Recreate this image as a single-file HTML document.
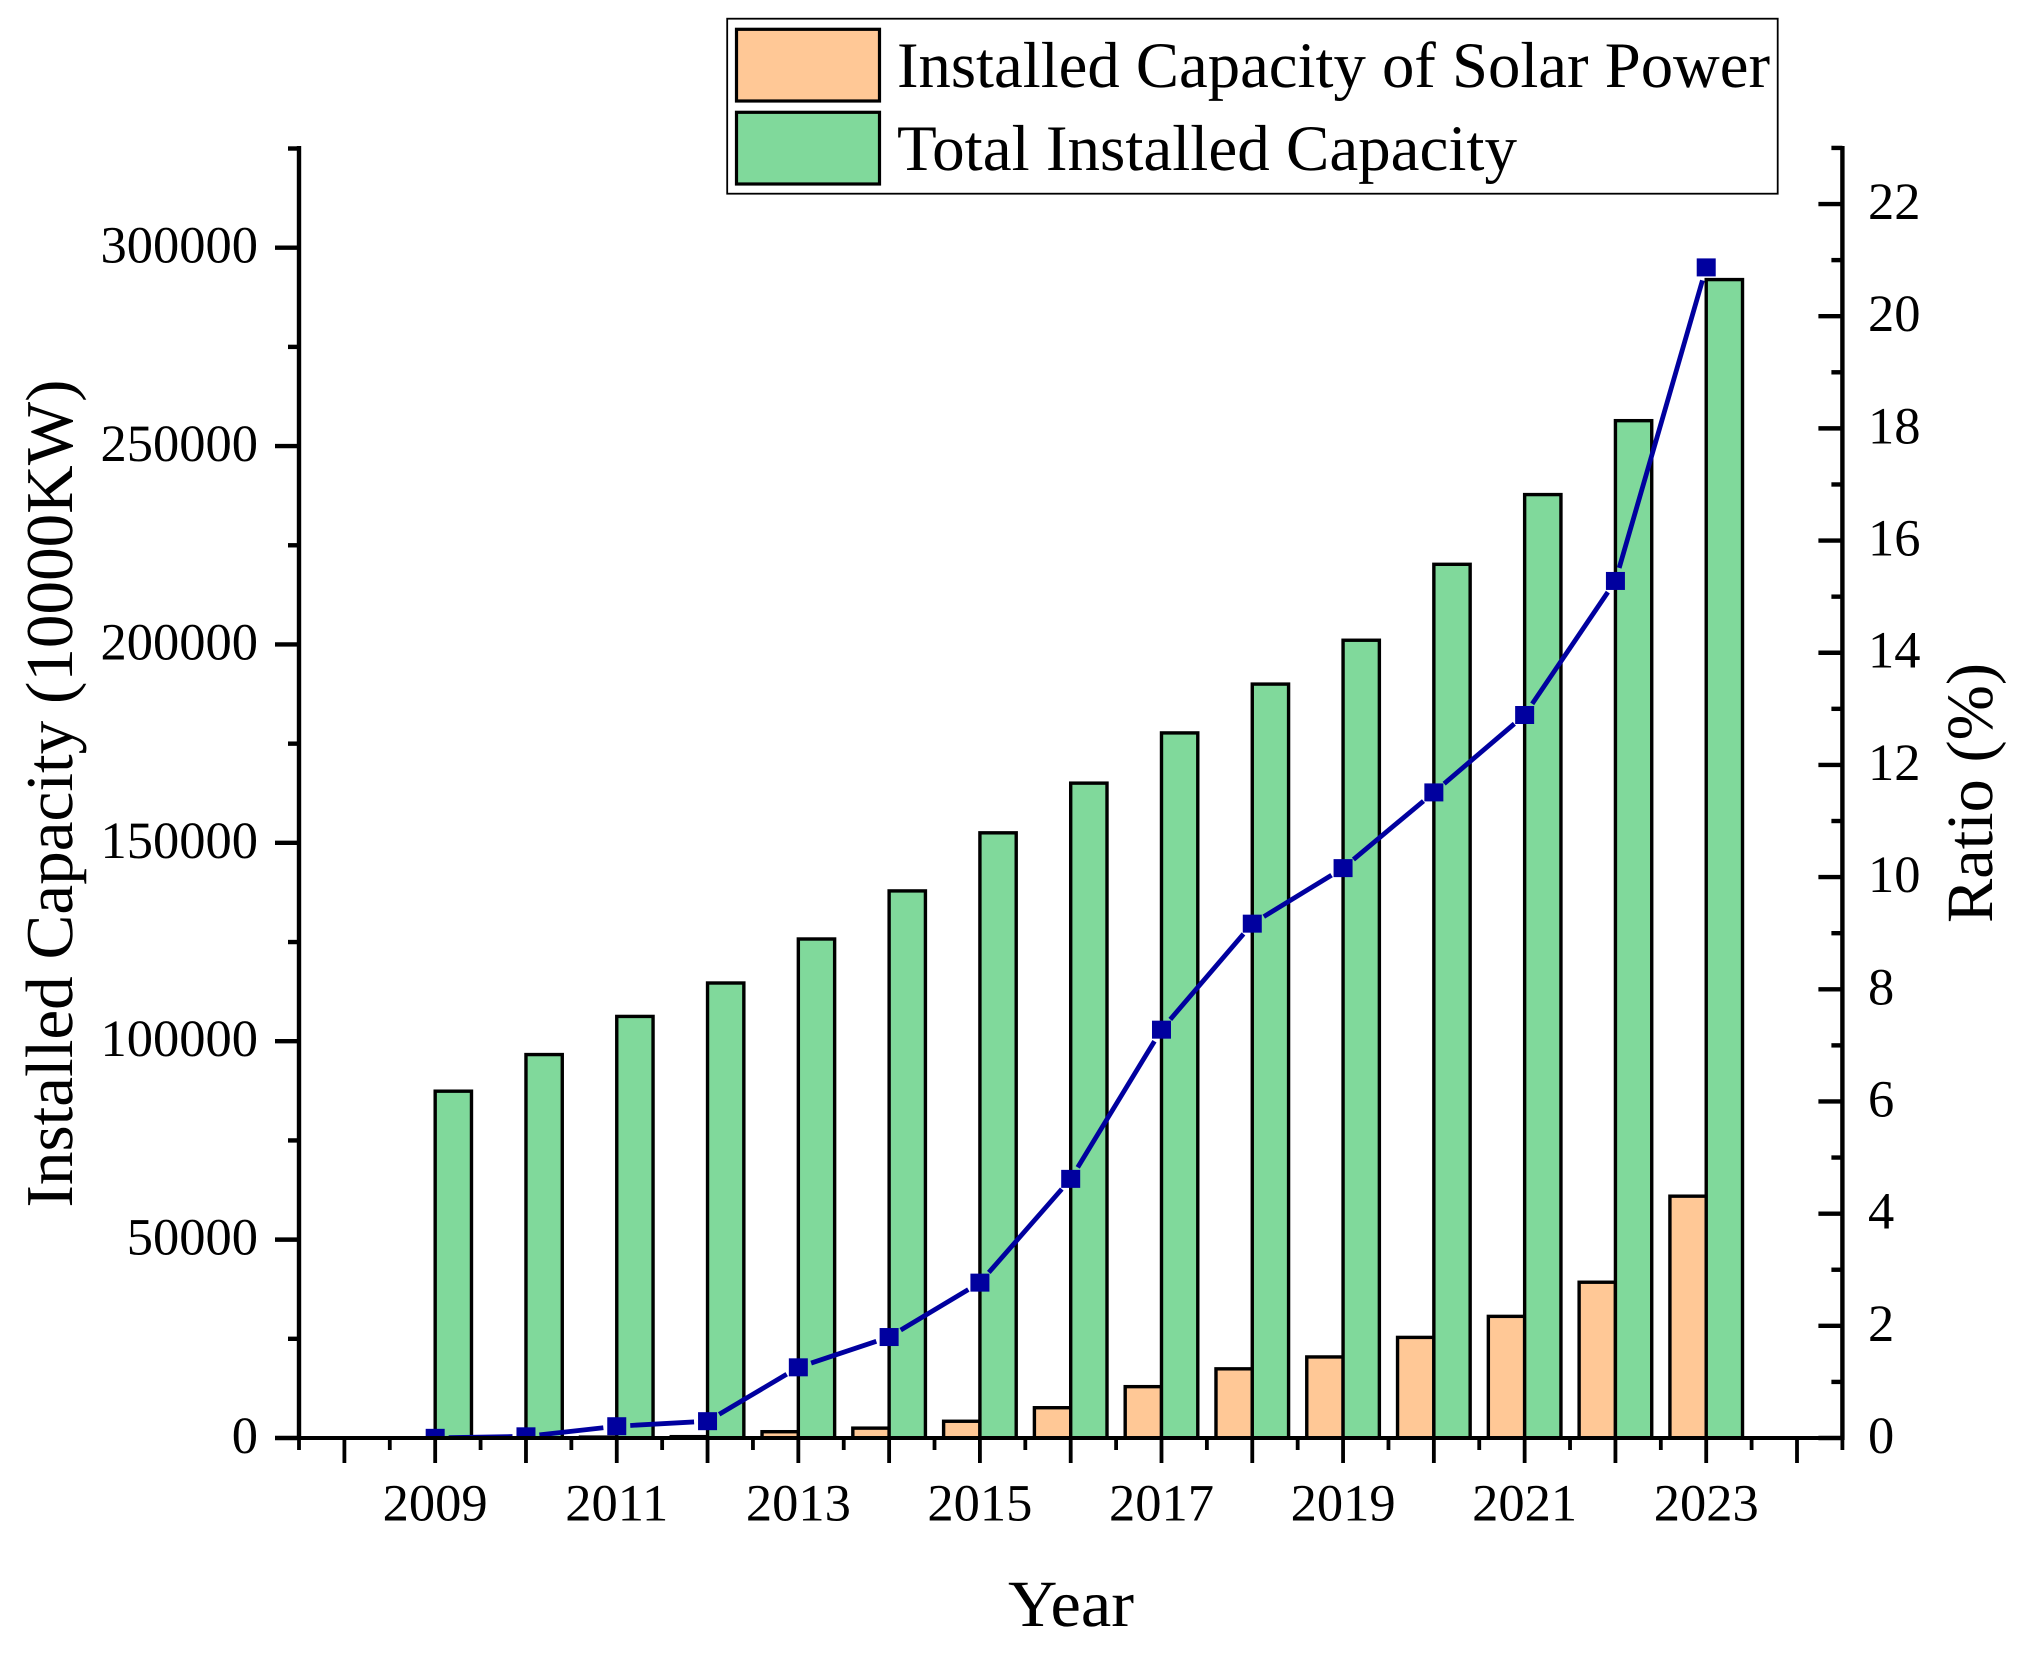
<!DOCTYPE html>
<html lang="en">
<head>
<meta charset="utf-8">
<title>Installed Capacity of Solar Power and Total Installed Capacity</title>
<style>
html,body{margin:0;padding:0;background:#fff;width:2023px;height:1655px;overflow:hidden}
svg{display:block}
text{font-family:"Liberation Serif","Times New Roman",serif;fill:#000;text-rendering:geometricPrecision}
</style>
</head>
<body>
<svg id="chart" xmlns="http://www.w3.org/2000/svg" width="2023" height="1655" viewBox="0 0 2023 1655">
  <rect x="0" y="0" width="2023" height="1655" fill="#fff"/>
  <defs>
    <clipPath id="plot-clip"><rect x="299" y="100" width="1544" height="1338"/></clipPath>
  </defs>
  <g id="bars"></g>
  <g id="line" clip-path="url(#plot-clip)"></g>
  <g id="axes"></g>
  <g>
    <rect x="727.2" y="18.7" width="1050.5" height="175" fill="#fff" stroke="#000" stroke-width="1.8"/>
    <rect x="736.5" y="29.3" width="143" height="71.7" fill="#FFC896" stroke="#000" stroke-width="3.2"/>
    <text x="897" y="87" font-size="65" textLength="873" lengthAdjust="spacingAndGlyphs">Installed Capacity of Solar Power</text>
    <rect x="736.5" y="112.3" width="143" height="71.7" fill="#80D99B" stroke="#000" stroke-width="3.2"/>
    <text x="897" y="170" font-size="65" textLength="620" lengthAdjust="spacingAndGlyphs">Total Installed Capacity</text>
  </g>
  <text font-size="67" text-anchor="middle" textLength="828" lengthAdjust="spacingAndGlyphs" transform="translate(72 793.5) rotate(-90)">Installed Capacity (10000KW)</text>
  <text font-size="66" text-anchor="middle" textLength="260" lengthAdjust="spacingAndGlyphs" transform="translate(1992 793) rotate(-90)">Ratio (%)</text>
  <text font-size="66" x="1008" y="1626" textLength="126" lengthAdjust="spacingAndGlyphs">Year</text>
</svg>
<script>
const years = [2009,2010,2011,2012,2013,2014,2015,2016,2017,2018,2019,2020,2021,2022,2023];
const solarCapacity = [2.5,26,222,341,1589,2486,4218,7631,12942,17433,20429,25356,30656,39261,60949];
const totalCapacity = [87410,96641,106253,114676,125768,137887,152527,165051,177708,190012,201066,220204,237777,256405,291965];
const ratioPercent = [0.003,0.03,0.21,0.30,1.26,1.80,2.77,4.62,7.28,9.17,10.16,11.51,12.89,15.28,20.87];
const xTickLabels = [2009,2011,2013,2015,2017,2019,2021,2023];
const leftTickLabels = [0,50000,100000,150000,200000,250000,300000];
const rightTickLabels = [0,2,4,6,8,10,12,14,16,18,20,22];

const NS = 'http://www.w3.org/2000/svg';
const xMin = 2007.5, xMax = 2024.5, plotLeft = 299, plotRight = 1842.4, plotBottom = 1438;
const xScale = v => plotLeft + (v - xMin) * (plotRight - plotLeft) / (xMax - xMin);
const yLeft = v => plotBottom - v * 1190.3 / 300000;
const yRight = v => plotBottom - v * 56.09;
const barWidth = 36.3;

function make(tag, parent, attrs) {
  const el = document.createElementNS(NS, tag);
  for (const k in attrs) el.setAttribute(k, attrs[k]);
  parent.appendChild(el);
  return el;
}

const barsLayer = document.getElementById('bars');
years.forEach((year, i) => {
  const cx = xScale(year);
  const sTop = yLeft(solarCapacity[i]);
  const solar = make('rect', barsLayer, {x: cx - barWidth, y: sTop, width: barWidth, height: plotBottom - sTop, fill: '#FFC896', stroke: '#000', 'stroke-width': 3.4});
  
  
  const tTop = yLeft(totalCapacity[i]);
  const total = make('rect', barsLayer, {x: cx, y: tTop, width: barWidth, height: plotBottom - tTop, fill: '#80D99B', stroke: '#000', 'stroke-width': 3.4});
  
  
});

const lineLayer = document.getElementById('line');
const gapRadius = 13.5;
years.forEach((year, i) => {
  if (i === years.length - 1) return;
  const x1 = xScale(year), y1 = yRight(ratioPercent[i]);
  const x2 = xScale(years[i + 1]), y2 = yRight(ratioPercent[i + 1]);
  const len = Math.hypot(x2 - x1, y2 - y1);
  const ux = (x2 - x1) / len, uy = (y2 - y1) / len;
  const seg = make('line', lineLayer, {x1: x1 + ux * gapRadius, y1: y1 + uy * gapRadius, x2: x2 - ux * gapRadius, y2: y2 - uy * gapRadius, stroke: '#00009F', 'stroke-width': 4.8});
  
  
});
years.forEach((year, i) => {
  const m = make('rect', lineLayer, {x: xScale(year) - 9.5, y: yRight(ratioPercent[i]) - 9, width: 19, height: 18, fill: '#00009F'});
  
  
});

const axes = document.getElementById('axes');
function axisLine(x1, y1, x2, y2, w, name) {
  const l = make('line', axes, {x1: x1, y1: y1, x2: x2, y2: y2, stroke: '#000', 'stroke-width': w});
  
  
}
axisLine(plotLeft, 146, plotLeft, plotBottom + 2, 4.4, 'y-axis-left-line');
axisLine(plotRight, 146, plotRight, plotBottom + 2, 4.4, 'y-axis-right-line');
axisLine(275, plotBottom, plotRight + 2, plotBottom, 4, 'x-axis-line');

// left axis ticks
for (let v = 0; v <= 325000; v += 25000) {
  const y = yLeft(v);
  const major = v % 50000 === 0;
  axisLine(plotLeft - (major ? 24 : 11), y, plotLeft, y, 4.4, 'y-left-tick-' + v);
}
leftTickLabels.forEach(v => {
  const t = make('text', axes, {x: 258, y: yLeft(v) + 15, 'font-size': 52.5, 'text-anchor': 'end'});
  t.textContent = v;
  
  
});

// right axis ticks
for (let v = 0; v <= 23; v += 1) {
  const y = yRight(v);
  const major = v % 2 === 0;
  axisLine(plotRight - (major ? 24 : 11), y, plotRight, y, 4.4, 'y-right-tick-' + v);
}
rightTickLabels.forEach(v => {
  const t = make('text', axes, {x: 1868, y: yRight(v) + 15, 'font-size': 52.5});
  t.textContent = v;
  
  
});

// x axis ticks
for (let v = xMin; v <= xMax; v += 0.5) {
  const x = xScale(v);
  const major = Number.isInteger(v);
  axisLine(x, plotBottom, x, plotBottom + (major ? 25 : 12), 3.8, 'x-tick-' + v);
}
xTickLabels.forEach(v => {
  const t = make('text', axes, {x: xScale(v), y: 1520.5, 'font-size': 52.5, 'text-anchor': 'middle'});
  t.textContent = v;
  
  
});
</script>
</body>
</html>
